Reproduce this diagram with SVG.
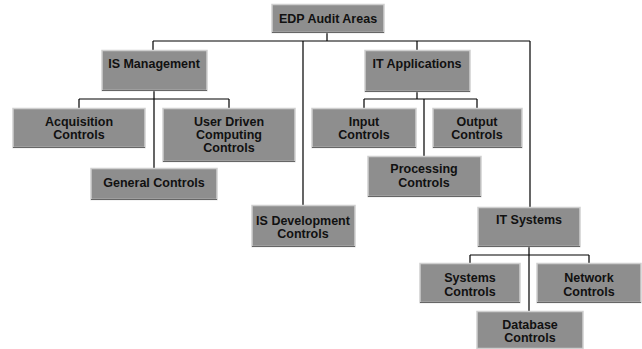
<svg xmlns="http://www.w3.org/2000/svg" width="642" height="349" viewBox="0 0 642 349">
<style>
.box{fill:#8e8e8e;stroke:#cfcfcf;stroke-width:1.5}
.sh{stroke:#666;stroke-width:1}
.t{font-family:"Liberation Sans",Arial,sans-serif;font-weight:bold;font-size:12.5px;fill:#111;text-anchor:middle}
.c{fill:none;stroke:#000;stroke-width:1.2}
</style>
<rect width="642" height="349" fill="#fff"/>
<g id="connectors">
<path class="c" d="M327,33V41M153,41H530M153,41V50M303,41V205M417,41V50M530,41V207"/>
<path class="c" d="M154,91V168M79,99H229M79,99V108M229,99V108"/>
<path class="c" d="M417,92V99M364,99H477M364,99V108M477,99V108M424,99V156"/>
<path class="c" d="M529,247V255M470,255H589M470,255V263M589,255V263M529,255V311"/>
</g>
<g id="edp"><rect class="box" x="272" y="4.5" width="112" height="28"/><line class="sh" x1="272" y1="32.5" x2="384" y2="32.5"/><text class="t" x="328" y="23">EDP Audit Areas</text></g>
<g id="ismgmt"><rect class="box" x="102" y="50.5" width="105" height="40"/><line class="sh" x1="102" y1="90.5" x2="207" y2="90.5"/><text class="t" x="154" y="68">IS Management</text></g>
<g id="itapp"><rect class="box" x="365" y="50.5" width="105" height="41"/><line class="sh" x1="365" y1="91.5" x2="470" y2="91.5"/><text class="t" x="417" y="68">IT Applications</text></g>
<g id="acq"><rect class="box" x="13" y="108.5" width="132" height="39"/><line class="sh" x1="13" y1="147.5" x2="145" y2="147.5"/><text class="t" x="79" y="126">Acquisition</text><text class="t" x="79" y="139">Controls</text></g>
<g id="udc"><rect class="box" x="163" y="108.5" width="132" height="53"/><line class="sh" x1="163" y1="161.5" x2="295" y2="161.5"/><text class="t" x="229" y="126">User Driven</text><text class="t" x="229" y="139">Computing</text><text class="t" x="229" y="152">Controls</text></g>
<g id="gen"><rect class="box" x="91" y="168.5" width="126" height="31"/><line class="sh" x1="91" y1="199.5" x2="217" y2="199.5"/><text class="t" x="154" y="187">General Controls</text></g>
<g id="input"><rect class="box" x="312" y="108.5" width="104" height="39"/><line class="sh" x1="312" y1="147.5" x2="416" y2="147.5"/><text class="t" x="364" y="126">Input</text><text class="t" x="364" y="139">Controls</text></g>
<g id="output"><rect class="box" x="433" y="108.5" width="89" height="39"/><line class="sh" x1="433" y1="147.5" x2="522" y2="147.5"/><text class="t" x="477" y="126">Output</text><text class="t" x="477" y="139">Controls</text></g>
<g id="proc"><rect class="box" x="368" y="156.5" width="113" height="40"/><line class="sh" x1="368" y1="196.5" x2="481" y2="196.5"/><text class="t" x="424" y="173">Processing</text><text class="t" x="424" y="187">Controls</text></g>
<g id="isdev"><rect class="box" x="252" y="205.5" width="103" height="41"/><line class="sh" x1="252" y1="246.5" x2="355" y2="246.5"/><text class="t" x="303" y="225">IS Development</text><text class="t" x="303" y="238">Controls</text></g>
<g id="itsys"><rect class="box" x="478" y="207.5" width="102" height="39"/><line class="sh" x1="478" y1="246.5" x2="580" y2="246.5"/><text class="t" x="529" y="224">IT Systems</text></g>
<g id="sysc"><rect class="box" x="420" y="263.5" width="100" height="39"/><line class="sh" x1="420" y1="302.5" x2="520" y2="302.5"/><text class="t" x="470" y="282">Systems</text><text class="t" x="470" y="296">Controls</text></g>
<g id="netc"><rect class="box" x="537" y="263.5" width="104" height="39"/><line class="sh" x1="537" y1="302.5" x2="641" y2="302.5"/><text class="t" x="589" y="282">Network</text><text class="t" x="589" y="296">Controls</text></g>
<g id="dbc"><rect class="box" x="477" y="311.5" width="106" height="37"/><text class="t" x="530" y="329">Database</text><text class="t" x="530" y="342">Controls</text></g>
</svg>
